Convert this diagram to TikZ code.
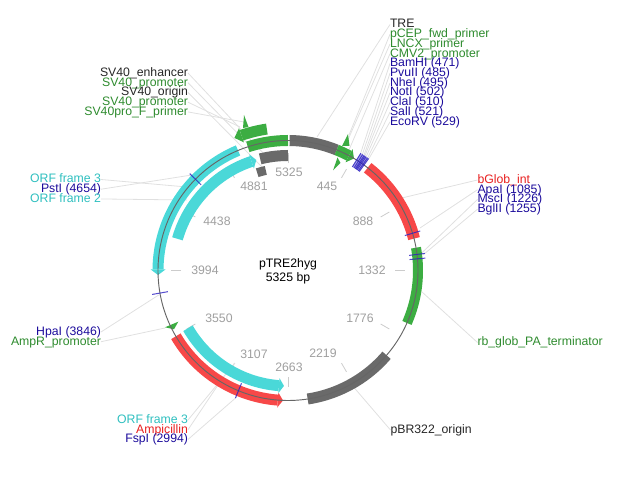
\documentclass[tikz,border=0pt]{standalone}
\usepackage{fontspec}
\setmainfont{Liberation Sans}
\usetikzlibrary{positioning}
\definecolor{fgreen}{HTML}{3CAD42}
\definecolor{fred}{HTML}{F74848}
\definecolor{fcyan}{HTML}{4AD8D8}
\definecolor{fgray}{HTML}{6A6A6A}
\definecolor{fblue}{HTML}{2A1FC0}
\definecolor{tblue}{HTML}{1C0C9C}
\definecolor{tgreen}{HTML}{2E8B2E}
\definecolor{tcyan}{HTML}{2FBFBF}
\definecolor{tred}{HTML}{E82020}
\newcommand{\featarc}[5]{% colour, from, to, radius, width
	\draw[#1, line width=0.75pt*#5] plot[domain=#2:#3, samples=40] ({288+#4*sin(\x)},{270.5-#4*cos(\x)});}
\newcommand{\feathead}[5]{% colour, base, tip, radius, width
	\fill[#1] ({288+(#4-#5/2-2)*sin(#2)},{270.5-(#4-#5/2-2)*cos(#2)}) -- ({288+#4*sin(#3)},{270.5-#4*cos(#3)}) -- ({288+(#4+#5/2+2)*sin(#2)},{270.5-(#4+#5/2+2)*cos(#2)}) -- cycle;}
\newcommand{\sitetick}[1]{%
	\draw[fblue, line width=0.75pt, opacity=0.8] ({288+122*sin(#1)},{270.5-122*cos(#1)}) -- ({288+138*sin(#1)},{270.5-138*cos(#1)});}

\begin{document}
\begin{tikzpicture}[x=0.75pt,y=-0.75pt,node distance=-1.7pt]
	\tikzstyle{lab}=[inner sep=0pt, outer sep=0pt, text height=7pt, text depth=2pt, font=\fontsize{9.2pt}{9.2pt}\selectfont]
	\tikzstyle{lab_l}=[lab, anchor=east]
	\tikzstyle{lab_r}=[lab, anchor=west]
	\tikzstyle{posnum}=[inner sep=0pt, text=gray!75, font=\fontsize{9.2pt}{9.2pt}\selectfont]
	\tikzstyle{lead}=[black!12, line width=0.6pt]

	\useasboundingbox (0,0) rectangle (636,491);

	% labels right of the top
	\node[lab_r, text=black!85] (tre) at (390,24.5) {TRE};
	\node[lab, text=tgreen, below=of tre.south west, anchor=north west] (pcep) {pCEP\_fwd\_primer};
	\node[lab, text=tgreen, below=of pcep.south west, anchor=north west] (lncx) {LNCX\_primer};
	\node[lab, text=tgreen, below=of lncx.south west, anchor=north west] (cmv) {CMV2\_promoter};
	\node[lab, text=tblue, below=of cmv.south west, anchor=north west] (bam) {BamHI (471)};
	\node[lab, text=tblue, below=of bam.south west, anchor=north west] (pvu) {PvuII (485)};
	\node[lab, text=tblue, below=of pvu.south west, anchor=north west] (nhe) {NheI (495)};
	\node[lab, text=tblue, below=of nhe.south west, anchor=north west] (not) {NotI (502)};
	\node[lab, text=tblue, below=of not.south west, anchor=north west] (cla) {ClaI (510)};
	\node[lab, text=tblue, below=of cla.south west, anchor=north west] (sal) {SalI (521)};
	\node[lab, text=tblue, below=of sal.south west, anchor=north west] (eco) {EcoRV (529)};

	\node[lab_r, text=tred] (bglob) at (477.5,180) {bGlob\_int};
	\node[lab, text=tblue, below=of bglob.south west, anchor=north west] (apa) {ApaI (1085)};
	\node[lab, text=tblue, below=of apa.south west, anchor=north west] (msc) {MscI (1226)};
	\node[lab, text=tblue, below=of msc.south west, anchor=north west] (bgl) {BglII (1255)};
	\node[lab_r, text=tgreen] (rbglob) at (477.5,342.5) {rb\_glob\_PA\_terminator};
	\node[lab_r, text=black!85] (pbr) at (390.5,430) {pBR322\_origin};

	% labels on the left
	\node[lab_l, text=black!85] (enh) at (188,73) {SV40\_enhancer};
	\node[lab, text=tgreen, below=of enh.south east, anchor=north east] (pro_a) {SV40\_promoter};
	\node[lab, text=black!85, below=of pro_a.south east, anchor=north east] (ori) {SV40\_origin};
	\node[lab, text=tgreen, below=of ori.south east, anchor=north east] (pro_b) {SV40\_promoter};
	\node[lab, text=tgreen, below=of pro_b.south east, anchor=north east] (prof) {SV40pro\_F\_primer};

	\node[lab_l, text=tcyan] (orf_a) at (101,179.5) {ORF frame 3};
	\node[lab, text=tblue, below=of orf_a.south east, anchor=north east] (pst) {PstI (4654)};
	\node[lab, text=tcyan, below=of pst.south east, anchor=north east] (orf_b) {ORF frame 2};

	\node[lab_l, text=tblue] (hpa) at (101,332) {HpaI (3846)};
	\node[lab, text=tgreen, below=of hpa.south east, anchor=north east] (ampr) {AmpR\_promoter};

	\node[lab_l, text=tcyan] (orf_c) at (188,420) {ORF frame 3};
	\node[lab, text=tred, below=of orf_c.south east, anchor=north east] (amp) {Ampicillin};
	\node[lab, text=tblue, below=of amp.south east, anchor=north east] (fsp) {FspI (2994)};

	% name and size
	\node[lab] (name) at (288,264) {pTRE2hyg};
	\node[lab] (size) at (288,278) {5325 bp};

	% position numbers
	\node[posnum] (p0) at (289,172) {5325};
	\node[posnum] (p1) at (327,186) {445};
	\node[posnum] (p2) at (363,221) {888};
	\node[posnum] (p3) at (372,270) {1332};
	\node[posnum] (p4) at (360,318) {1776};
	\node[posnum] (p5) at (323,353) {2219};
	\node[posnum] (p6) at (289,367) {2663};
	\node[posnum] (p7) at (254,354) {3107};
	\node[posnum] (p8) at (219,318) {3550};
	\node[posnum] (p9) at (205,270) {3994};
	\node[posnum] (p10) at (217,221) {4438};
	\node[posnum] (p11) at (254,186) {4881};
	\foreach \a in {0,30,...,330}
		\draw[black!20, line width=0.6pt] ({288+107*sin(\a)},{270.5-107*cos(\a)}) -- ({288+117*sin(\a)},{270.5-117*cos(\a)});

	% free ends of the leaders
	\coordinate (c_tre) at (317,137);
	\coordinate (c_pcep) at (349,135);
	\coordinate (c_lncx) at (347,142);
	\coordinate (c_cmv) at (349,150);
	\coordinate (c_bam) at (360.7,153);
	\coordinate (c_pvu) at (362.5,154);
	\coordinate (c_nhe) at (364,155);
	\coordinate (c_not) at (365,155.7);
	\coordinate (c_cla) at (366.3,156.5);
	\coordinate (c_sal) at (367.8,157.6);
	\coordinate (c_eco) at (369,158.5);
	\coordinate (c_bglob) at (403,197.7);
	\coordinate (c_apa) at (420,228);
	\coordinate (c_msc) at (421.7,253);
	\coordinate (c_bgl) at (423,255);
	\coordinate (c_rbglob) at (421.7,291.7);
	\coordinate (c_pbr) at (353.3,386.7);
	\coordinate (c_enh) at (265,155);
	\coordinate (c_pro_a) at (252,148);
	\coordinate (c_ori) at (262,167);
	\coordinate (c_pro_b) at (240,127);
	\coordinate (c_prof) at (244,122);
	\coordinate (c_orf_a) at (187,187);
	\coordinate (c_pst) at (191.7,175);
	\coordinate (c_orf_b) at (187,200);
	\coordinate (c_hpa) at (158.7,295);
	\coordinate (c_ampr) at (165,328);
	\coordinate (c_orf_c) at (235,363);
	\coordinate (c_amp) at (218,385);
	\coordinate (c_fsp) at (236.7,397);

	\foreach \n in {tre,pcep,lncx,cmv,bam,pvu,nhe,not,cla,sal,eco,bglob,apa,msc,bgl,rbglob,pbr}
		\draw[lead] (\n.west) -- (c_\n);
	\foreach \n in {enh,pro_a,ori,pro_b,prof,orf_a,pst,orf_b,hpa,ampr,orf_c,amp,fsp}
		\draw[lead] (\n.east) -- (c_\n);

	% features
	\featarc{fgreen}{-18}{0}{130}{11}
	\featarc{fgray}{0.7}{22}{130}{11}
	\featarc{fgreen}{22}{28}{130}{11}
	\feathead{fgreen}{28}{30.5}{130}{11}
	\featarc{fred}{37.8}{75.8}{130}{12}
	\featarc{fgreen}{79.9}{113.8}{130}{10}
	\featarc{fgray}{130.7}{171.3}{130}{11}
	\featarc{fred}{239.6}{184.5}{130}{11}
	\feathead{fred}{184.5}{182.2}{130}{11}
	\featarc{fcyan}{240}{184.5}{115.5}{11}
	\feathead{fcyan}{184.5}{182}{115.5}{11}
	\featarc{fcyan}{337.4}{270.5}{130}{11}
	\feathead{fcyan}{270.5}{268}{130}{11}
	\featarc{fcyan}{286}{341.5}{115}{11}
	\feathead{fcyan}{341.5}{344}{115}{11}
	\featarc{fgray}{346}{360}{115}{11}
	\featarc{fgray}{342.5}{347.5}{102.5}{9}
	\featarc{fgreen}{351.5}{341}{143}{11}
	\feathead{fgreen}{341}{338}{143}{11}

	% small primer arrows
	\fill[fgreen] (348,134) -- (342,146) -- (349.5,146) -- cycle;
	\fill[fgreen] (333,170.5) -- (337.5,157.5) -- (340.5,163) -- cycle;
	\fill[fgreen] (244,115) -- (243,128) -- (248.5,127) -- cycle;
	\fill[fgreen] (165,327.3) -- (178.3,321.7) -- (174,329.3) -- cycle;

	% ring
	\draw[black!60, line width=0.7pt] (288,270.5) circle [x radius=130, y radius=130];

	% sites
	\foreach \a in {31.84,32.77,33.47,33.94,34.48,35.2,35.77} {\sitetick{\a}}
	\fill[fblue, opacity=0.4] ({288+122*sin(31.84)},{270.5-122*cos(31.84)}) -- ({288+138*sin(31.84)},{270.5-138*cos(31.84)}) -- ({288+138*sin(35.77)},{270.5-138*cos(35.77)}) -- ({288+122*sin(35.77)},{270.5-122*cos(35.77)}) -- cycle;
	\foreach \a in {73.35,82.9,84.85,202.4,260,314.6} {\sitetick{\a}}
\end{tikzpicture}
\end{document}
